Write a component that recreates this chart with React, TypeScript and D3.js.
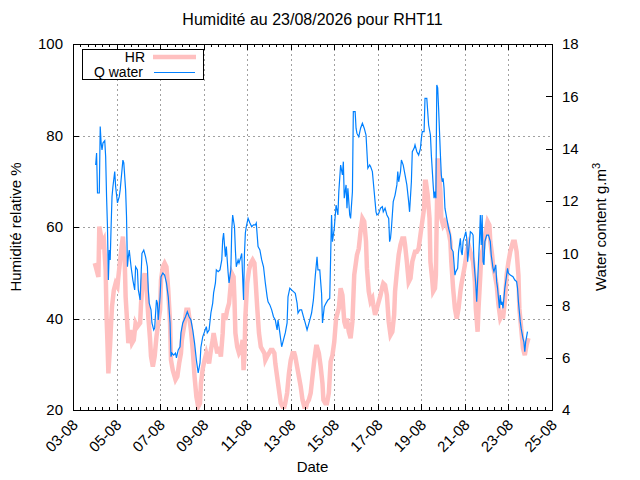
import * as d3 from "d3";
import React from "react";

// time axis: hours counted from 03-08-2026 00:00 UTC
const startDate = Date.UTC(2026, 7, 3);
const endDate = Date.UTC(2026, 7, 25);
const tickDays = [3, 5, 7, 9, 11, 13, 15, 17, 19, 21, 23, 25];
const hrTicks = [20, 40, 60, 80, 100];
const qTicks = [4, 6, 8, 10, 12, 14, 16, 18];

const title = "Humidité au 23/08/2026 pour RHT11";
const seriesNames = ["HR", "Q water"];

// relative humidity (%)
const hrHours = [
	24, 26, 28, 29, 31, 32, 34, 36, 37, 38,
	39, 41, 42, 43, 45, 47, 49, 50, 52, 54,
	55, 57, 58, 60, 61, 63, 65, 67, 69, 71,
	74, 75, 77, 79, 81, 83, 85, 86, 88, 90,
	92, 94, 96, 97, 99, 101, 103, 105, 107, 108,
	110, 111, 113, 115, 117, 119, 120, 123, 125, 127,
	129, 130, 132, 134, 136, 138, 140, 141, 143, 145,
	147, 150, 152, 154, 155, 157, 159, 161, 163, 165,
	166, 168, 170, 172, 173, 175, 177, 178, 179, 181,
	183, 185, 187, 188, 189, 190, 192, 194, 196, 198,
	200, 201, 203, 205, 207, 209, 211, 212, 214, 216,
	218, 220, 222, 223, 225, 227, 229, 231, 233, 234,
	236, 238, 240, 242, 244, 245, 247, 249, 251, 253,
	255, 257, 258, 260, 262, 264, 266, 268, 269, 271,
	273, 275, 276, 278, 280, 282, 284, 286, 288, 290,
	291, 293, 295, 297, 299, 301, 302, 304, 306, 308,
	310, 312, 313, 315, 317, 319, 321, 323, 324, 326,
	328, 330, 331, 333, 335, 337, 339, 341, 342, 344,
	346, 348, 350, 352, 354, 355, 357, 359, 361, 363,
	365, 366, 368, 370, 372, 374, 376, 377, 379, 381,
	383, 385, 387, 388, 389, 391, 393, 394, 396, 397,
	399, 400, 402, 403, 405, 406, 408, 410, 412, 414,
	416, 417, 419, 421, 423, 425, 427, 428, 430, 432,
	434, 436, 438, 439, 441, 443, 444, 446, 447, 449,
	450, 452, 453, 455, 457, 459, 460, 462, 463, 465,
	467, 469, 471, 473, 474, 476, 478, 480, 482, 484,
	485, 487, 489, 491, 492, 494, 495, 496, 498, 500, 502,
];
const hrValues = [
	52.1, 50.6, 49.1, 60.1, 57.9, 56.4, 57.2, 50.6, 40.4, 34.6,
	28.0, 34.6, 39.0, 42.6, 46.2, 47.7, 47.0, 49.1, 52.8, 56.4,
	57.9, 52.8, 44.8, 38.2, 34.6, 37.5, 34.6, 35.3, 39.0, 38.2,
	39.0, 43.3, 48.4, 49.9, 47.0, 40.4, 35.3, 31.7, 29.5, 31.7,
	36.0, 39.0, 41.9, 48.4, 51.3, 52.1, 51.3, 46.2, 39.0, 30.9,
	28.7, 28.0, 26.6, 27.3, 30.2, 32.4, 35.3, 39.0, 41.9, 41.9,
	39.0, 37.5, 33.1, 27.3, 22.9, 20.7, 21.5, 25.8, 29.0, 30.9,
	32.4, 30.2, 33.1, 35.3, 36.8, 34.6, 32.4, 33.8, 31.7, 36.8,
	41.1, 39.7, 41.9, 43.3, 45.5, 49.9, 49.1, 44.0, 36.8, 33.8,
	32.4, 33.1, 35.3, 28.7, 31.7, 40.4, 47.7, 50.6, 52.1, 52.8,
	52.1, 49.1, 42.6, 36.8, 33.8, 33.1, 32.4, 30.9, 31.7, 32.4,
	33.1, 33.1, 32.4, 30.2, 27.3, 24.4, 21.5, 20.7, 20.7, 21.5,
	23.7, 28.0, 30.9, 32.4, 32.4, 31.7, 29.5, 27.3, 25.1, 22.2,
	20.7, 20.7, 21.5, 22.2, 23.7, 27.3, 30.9, 33.8, 33.8, 32.4,
	29.5, 25.8, 22.2, 21.5, 21.5, 23.7, 30.6, 32.0, 34.9, 40.0,
	40.8, 42.2, 46.6, 45.1, 39.3, 37.9, 40.0, 37.1, 35.7, 39.3,
	49.5, 52.4, 53.9, 55.3, 59.0, 61.9, 61.2, 56.8, 51.0, 45.9,
	43.7, 44.4, 43.0, 40.8, 42.2, 43.7, 45.1, 47.0, 47.7, 47.3,
	45.1, 39.3, 36.4, 37.1, 40.8, 45.9, 50.2, 53.9, 56.1, 57.5,
	57.5, 56.1, 52.4, 48.0, 48.8, 52.4, 53.9, 54.6, 54.6, 55.3,
	58.3, 61.2, 64.1, 69.9, 69.9, 67.0, 61.9, 52.4, 48.4, 45.9,
	46.6, 49.5, 75.0, 72.8, 67.7, 61.9, 60.4, 61.2, 60.4, 59.0,
	56.8, 52.4, 46.6, 42.2, 40.0, 42.2, 45.9, 47.3, 49.5, 51.7,
	54.6, 56.1, 54.6, 53.9, 52.4, 48.0, 42.2, 37.1, 42.2, 49.5,
	53.9, 55.3, 56.8, 59.0, 61.2, 60.4, 56.8, 53.9, 51.7, 49.5,
	47.3, 43.0, 40.0, 40.8, 40.0, 43.7, 49.5, 52.4, 54.6, 56.1,
	56.8, 56.8, 54.6, 49.5, 42.2, 37.9, 35.7, 33.5, 32.0, 34.2, 35.7,
];

// water content (g.m-3)
const qHours = [
	25, 26, 27, 29, 30, 31, 32, 33, 35, 36,
	37, 38, 39, 40, 41, 42, 43, 44, 46, 47,
	49, 51, 52, 53, 55, 56, 58, 59, 60, 61,
	62, 64, 66, 68, 69, 71, 72, 74, 75, 76,
	78, 80, 82, 83, 84, 86, 87, 89, 90, 92,
	93, 94, 96, 97, 99, 101, 103, 105, 107, 108,
	109, 111, 113, 114, 116, 118, 119, 121, 124, 126,
	128, 130, 132, 134, 136, 138, 140, 141, 143, 147,
	148, 150, 152, 154, 155, 157, 158, 160, 162, 164,
	165, 166, 168, 169, 171, 172, 174, 175, 176, 178,
	179, 180, 182, 183, 185, 186, 188, 189, 190, 191,
	193, 195, 197, 199, 201, 202, 204, 206, 208, 210,
	212, 214, 215, 217, 219, 221, 223, 225, 226, 228,
	230, 232, 234, 236, 237, 239, 241, 243, 245, 247,
	248, 250, 252, 254, 256, 258, 259, 261, 263, 265,
	267, 269, 270, 272, 274, 275, 277, 279, 281, 283,
	285, 286, 288, 290, 292, 293, 295, 297, 298, 299,
	301, 302, 303, 305, 306, 308, 309, 311, 312, 313,
	315, 317, 319, 321, 323, 324, 325, 327, 328, 330,
	332, 334, 335, 337, 339, 341, 342, 344, 346, 348,
	349, 350, 351, 353, 355, 357, 358, 359, 361, 362,
	364, 366, 368, 370, 371, 373, 374, 376, 377, 379,
	381, 383, 384, 385, 387, 388, 390, 392, 394, 395,
	397, 398, 399, 400, 401, 402, 403, 405, 406, 407,
	408, 409, 410, 412, 414, 416, 417, 419, 421, 422,
	424, 425, 427, 428, 429, 430, 432, 433, 434, 435,
	437, 438, 440, 441, 442, 444, 445, 446, 448, 449,
	450, 451, 452, 453, 454, 455, 456, 458, 460, 461,
	463, 464, 466, 467, 468, 470, 471, 472, 473, 474,
	476, 477, 479, 480, 482, 485, 487, 489, 490, 491,
	493, 494, 496, 497, 498, 499, 501,
];
const qValues = [
	13.37, 13.83, 12.3, 12.3, 14.84, 14.21, 13.95, 14.21, 14.3, 13.69,
	12.16, 11.01, 8.97, 10.12, 9.74, 11.01, 12.16, 12.54, 13.12, 12.54,
	11.92, 12.16, 12.42, 12.8, 13.56, 13.45, 12.42, 11.39, 9.48, 9.86,
	10.12, 9.48, 8.97, 8.59, 9.48, 9.36, 8.59, 8.21, 9.1, 9.99,
	10.12, 9.86, 9.48, 8.59, 8.09, 7.83, 7.33, 7.06, 7.14, 8.21,
	8.09, 7.44, 8.33, 9.1, 9.24, 9.16, 8.86, 8.33, 7.33, 6.04,
	6.18, 6.1, 6.18, 5.99, 6.3, 6.42, 6.95, 7.33, 7.57, 7.76,
	7.57, 7.44, 7.06, 6.56, 5.91, 5.42, 5.8, 6.4, 6.8, 7.19,
	6.95, 7.06, 7.71, 8.09, 8.48, 8.86, 9.36, 9.29, 9.36, 9.74,
	10.5, 10.77, 9.86, 10.25, 9.24, 8.86, 9.36, 10.89, 11.46, 11.01,
	10.12, 9.48, 9.74, 9.62, 9.86, 9.99, 8.21, 9.99, 10.77, 11.01,
	11.33, 11.15, 11.01, 11.08, 11.08, 11.15, 10.25, 10.12, 9.74, 9.48,
	8.86, 8.33, 8.14, 8.02, 7.83, 7.57, 7.44, 7.06, 7.44, 6.95,
	6.42, 6.68, 6.95, 7.33, 8.33, 8.66, 8.59, 8.53, 8.46, 8.09,
	7.71, 7.83, 7.83, 7.57, 7.33, 7.06, 7.19, 7.44, 7.71, 8.21,
	9.1, 9.86, 9.36, 9.36, 8.46, 7.33, 7.95, 8.09, 8.21, 8.27,
	11.46, 10.44, 10.95, 11.84, 11.46, 12.35, 13.37, 12.99, 13.5, 12.1,
	12.61, 11.72, 12.48, 11.46, 11.33, 12.35, 15.41, 15.41, 14.78, 14.58,
	14.45, 14.78, 14.97, 14.78, 14.52, 13.88, 13.25, 13.37, 13.31, 13.12,
	12.35, 11.58, 11.46, 11.52, 11.72, 11.78, 11.58, 11.72, 11.46, 11.33,
	10.44, 10.57, 10.95, 11.97, 12.22, 12.61, 13.12, 12.73, 13.12, 13.56,
	13.37, 12.99, 12.61, 11.97, 11.58, 12.73, 13.88, 14.01, 14.14, 13.88,
	13.75, 14.01, 14.39, 14.65, 14.65, 15.92, 15.92, 14.9, 14.52, 13.75,
	12.61, 12.1, 12.35, 12.1, 16.43, 16.32, 15.54, 13.75, 12.99, 12.73,
	12.86, 12.48, 11.72, 11.33, 10.95, 10.69, 10.18, 10.06, 9.16, 9.29,
	9.42, 10.06, 10.57, 10.06, 9.93, 10.44, 10.69, 10.82, 10.57, 9.67,
	10.44, 10.82, 10.76, 10.69, 9.67, 8.78, 8.14, 8.91, 10.44, 11.46,
	10.31, 11.46, 9.67, 9.55, 10.44, 10.57, 10.69, 10.69, 10.44, 9.93,
	9.42, 9.29, 9.55, 8.91, 8.66, 7.89, 8.4, 8.02, 8.14, 7.89,
	8.66, 8.91, 9.42, 9.23, 9.16, 9.1, 8.97, 8.91, 8.66, 8.14,
	7.38, 7.12, 6.74, 6.61, 6.23, 6.61, 7.0,
];

const hrColor = "#ffc0c0";
const qColor = "#0080ff";
const gridColor = "#a0a0a0";
const font = "'Liberation Sans', Arial, Helvetica, sans-serif";

const hourToDate = (h: number) => new Date(startDate + h * 3600 * 1000);

const App = () => {
	const plot = { left: 73, right: 552, top: 44, bottom: 410 };

	const x = d3
		.scaleUtc()
		.domain([new Date(startDate), new Date(endDate)])
		.range([plot.left, plot.right]);
	const yHr = d3.scaleLinear().domain([20, 100]).range([plot.bottom, plot.top]);
	const yQ = d3.scaleLinear().domain([4, 18]).range([plot.bottom, plot.top]);

	const fmt = d3.utcFormat("%d-%m");
	const majors = tickDays.map((d) => new Date(Date.UTC(2026, 7, d)));
	const minors = d3.utcHour
		.every(8)!
		.range(new Date(startDate), new Date(endDate));

	const hrPath =
		d3
			.line<number>()
			.x((_, i) => x(hourToDate(hrHours[i])))
			.y((d) => yHr(d))(hrValues) ?? "";
	const qPath =
		d3
			.line<number>()
			.x((_, i) => x(hourToDate(qHours[i])))
			.y((d) => yQ(d))(qValues) ?? "";

	const midY = (plot.top + plot.bottom) / 2;
	const midX = (plot.left + plot.right) / 2;

	return (
		<svg
			width={640}
			height={480}
			viewBox="0 0 640 480"
			style={{ position: "absolute", left: 0, top: 0, background: "#fff" }}
			fontFamily={font}
			fontSize={15}
		>
			<defs>
				<clipPath id="plot-clip">
					<rect
						x={plot.left}
						y={plot.top}
						width={plot.right - plot.left}
						height={plot.bottom - plot.top}
					/>
				</clipPath>
			</defs>

			{/* grid */}
			<g stroke={gridColor} strokeWidth={1} strokeDasharray="2,3">
				{majors.slice(1, -1).map((d) => (
					<line
						key={"gx" + d.getTime()}
						x1={Math.round(x(d)) + 0.5}
						x2={Math.round(x(d)) + 0.5}
						y1={plot.top}
						y2={plot.bottom}
					/>
				))}
				{hrTicks.slice(1, -1).map((v) => (
					<line
						key={"gy" + v}
						x1={plot.left}
						x2={plot.right}
						y1={Math.round(yHr(v)) + 0.5}
						y2={Math.round(yHr(v)) + 0.5}
					/>
				))}
			</g>

			{/* series */}
			<g clipPath="url(#plot-clip)" fill="none">
				<path d={hrPath} stroke={hrColor} strokeWidth={4.5} strokeLinejoin="miter" />
				<path d={qPath} stroke={qColor} strokeWidth={1.2} />
			</g>

			{/* ticks */}
			<g stroke="#000" strokeWidth={1}>
				{minors.map((d) => {
					const px = Math.round(x(d)) + 0.5;
					return (
						<g key={"mt" + d.getTime()}>
							<line x1={px} x2={px} y1={plot.bottom} y2={plot.bottom - 3} />
							<line x1={px} x2={px} y1={plot.top} y2={plot.top + 3} />
						</g>
					);
				})}
				{majors.map((d) => {
					const px = Math.round(x(d)) + 0.5;
					return (
						<g key={"Mt" + d.getTime()}>
							<line x1={px} x2={px} y1={plot.bottom} y2={plot.bottom - 6} />
							<line x1={px} x2={px} y1={plot.top} y2={plot.top + 6} />
						</g>
					);
				})}
				{hrTicks.map((v) => (
					<line
						key={"yt" + v}
						x1={plot.left}
						x2={plot.left + 6}
						y1={Math.round(yHr(v)) + 0.5}
						y2={Math.round(yHr(v)) + 0.5}
					/>
				))}
				{qTicks.map((v) => (
					<line
						key={"y2t" + v}
						x1={plot.right}
						x2={plot.right - 6}
						y1={Math.round(yQ(v)) + 0.5}
						y2={Math.round(yQ(v)) + 0.5}
					/>
				))}
			</g>

			{/* border */}
			<rect
				x={plot.left + 0.5}
				y={plot.top + 0.5}
				width={plot.right - plot.left}
				height={plot.bottom - plot.top}
				fill="none"
				stroke="#000"
				strokeWidth={1}
			/>

			{/* tick labels */}
			<g fill="#000">
				{hrTicks.map((v) => (
					<text key={"yl" + v} x={plot.left - 10} y={yHr(v)} dy="0.36em" textAnchor="end">
						{v}
					</text>
				))}
				{qTicks.map((v) => (
					<text key={"y2l" + v} x={plot.right + 10} y={yQ(v)} dy="0.36em" textAnchor="start">
						{v}
					</text>
				))}
				{majors.map((d) => {
					const px = x(d) + 2;
					const py = plot.bottom + 12;
					return (
						<text
							key={"xl" + d.getTime()}
							x={px}
							y={py}
							dy="0.36em"
							textAnchor="end"
							transform={`rotate(-45 ${px} ${py})`}
						>
							{fmt(d)}
						</text>
					);
				})}
			</g>

			{/* titles */}
			<text x={midX} y={25} textAnchor="middle" fontSize={16}>
				{title}
			</text>
			<text x={midX} y={472} textAnchor="middle">
				Date
			</text>
			<text
				transform={`translate(21 ${midY}) rotate(-90)`}
				textAnchor="middle"
			>
				Humidité relative %
			</text>
			<text
				transform={`translate(606 ${midY}) rotate(-90)`}
				textAnchor="middle"
			>
				Water content g.m
				<tspan dy="-6" fontSize={11}>
					3
				</tspan>
			</text>

			{/* legend */}
			<g fontSize={14}>
				<rect x={82.5} y={49.5} width={121} height={30} fill="#fff" stroke="#000" />
				<text x={145} y={56.5} dy="0.36em" textAnchor="end">
					{seriesNames[0]}
				</text>
				<line x1={153} x2={196} y1={57} y2={57} stroke={hrColor} strokeWidth={4.5} />
				<text x={143} y={72} dy="0.36em" textAnchor="end">
					{seriesNames[1]}
				</text>
				<line x1={154} x2={195} y1={72.5} y2={72.5} stroke={qColor} strokeWidth={1.2} />
			</g>
		</svg>
	);
};

export default App;
